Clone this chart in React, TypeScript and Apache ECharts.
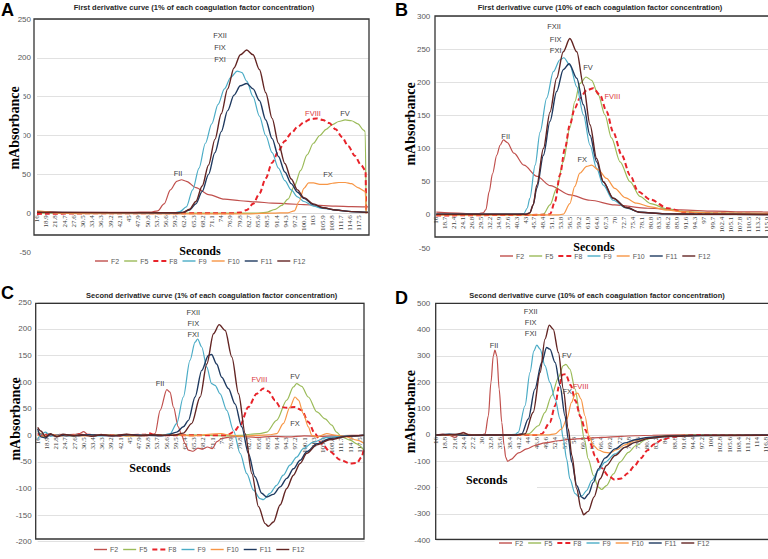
import React, { useEffect, useRef } from 'react';
import * as echarts from 'echarts';

const seriesNames = ['F2', 'F5', 'F8', 'F9', 'F10', 'F11', 'F12'];
const seriesColors = ['#C0504D', '#9BBB59', '#E8232A', '#4BACC6', '#F79646', '#1F3A60', '#632523'];

// x tick labels (seconds)
const ticksA = [16, 18.9, 21.8, 24.7, 27.6, 30.5, 33.4, 36.3, 39.2, 42.1, 45, 47.9, 50.8, 53.7, 56.6, 59.5, 62.4, 65.3, 68.2, 71.1, 74, 76.9, 79.8, 82.7, 85.6, 88.5, 91.4, 94.3, 97.2, 100.1, 103, 105.9, 108.8, 111.7, 114.6, 117.5];
const ticksB = [16, 18.7, 21.4, 24.1, 26.8, 29.5, 32.2, 34.9, 37.6, 40.3, 43, 45.7, 48.4, 51.1, 53.8, 56.5, 59.2, 61.9, 64.6, 67.3, 70, 72.7, 75.4, 78.1, 80.8, 83.5, 86.2, 88.9, 91.6, 94.3, 97, 99.7, 102.4, 105.1, 107.8, 110.5, 113.2, 115.9];
const ticksC = [16, 18.9, 21.8, 24.7, 27.6, 30.5, 33.4, 36.3, 39.2, 42.1, 45, 47.9, 50.8, 53.7, 56.6, 59.5, 62.4, 65.3, 68.2, 71.1, 74, 76.9, 79.8, 82.7, 85.6, 88.5, 91.4, 94.3, 97.2, 100.1, 103, 105.9, 108.8, 111.7, 114.6, 117.5];
const ticksD = [16, 18.8, 21.6, 24.4, 27.2, 30, 32.8, 35.6, 38.4, 41.2, 44, 46.8, 49.6, 52.4, 55.2, 58, 60.8, 63.6, 66.4, 69.2, 72, 74.8, 77.6, 80.4, 83.2, 86, 88.8, 91.6, 94.4, 97.2, 100, 102.8, 105.6, 108.4, 111.2, 114, 116.8];

// Panel A: first derivative, 1%  ([seconds, mAbsorbance])
const aF2 = [[16,2],[20,2],[25,1],[35,1],[45,1],[52,1.5],[54,3],[56,12],[58,30],[60,41],[61.5,43],[63,41],[66,33],[70,24],[75,18],[80,16],[85,14.5],[90,13],[95,12],[100,11],[105,10],[110,9],[115,8.5],[120.2,8]];
const aF5 = [[16,0],[85,0],[88,1],[91,5],[93,10],[95,18],[97,35],[99,55],[101,75],[103,90],[105,100],[107,108],[109,114],[111,118],[113,120],[115,119],[117,115],[118.8,107],[119.3,105],[119.6,0]];
const aF8 = [[16,-1],[40,0],[78,0],[80,1],[82,4],[84,12],[86,25],[88,45],[90,65],[92,80],[94,93],[96,103],[98,111],[100,117],[102,121],[104,122],[106,120],[108,116],[110,108],[112,98],[114,86],[116,74],[118,62],[119.4,55],[119.6,0]];
const aF9 = [[16,1],[59,0],[61,2],[63,8],[65,30],[67,58],[69,90],[71,115],[73,140],[75,160],[77,175],[79,183],[80.5,181],[82,170],[84,150],[86,125],[88,100],[90,78],[92,58],[94,42],[96,30],[98,21],[100,15],[103,9],[106,6],[110,4],[115,2],[120.2,1]];
const aF10 = [[16,3],[19,2],[22,0],[30,-0.5],[60,-1],[80,-1],[90,0],[95,0.5],[97,3],[98.5,15],[100,32],[101.5,39],[103,39],[105,37],[107,37],[109,38.5],[111,39.5],[113,39.5],[115,38],[117,33],[119.3,28],[119.6,0]];
const aF11 = [[16,1],[60,0.5],[62,1],[64,4],[66,12],[68,28],[70,50],[72,78],[74,105],[76,132],[78,152],[80,164],[82,167],[84,160],[86,145],[88,120],[90,96],[92,73],[94,53],[96,38],[98,27],[100,19],[103,11],[106,7],[110,4],[115,2],[120.2,1]];
const aF12 = [[16,1],[60,0.5],[62,1],[64,5],[66,15],[68,35],[70,62],[72,95],[74,128],[76,160],[78,187],[80,204],[82,210],[84,204],[86,185],[88,155],[90,122],[92,90],[94,64],[96,44],[98,30],[100,20],[103,12],[106,7],[110,4],[115,2],[120.2,1]];

// Panel B: first derivative, 10%
const bF2 = [[16,4],[20,3],[25,2],[29,2],[30.2,3],[31,8],[32,35],[33,62],[34.3,90],[35.3,105],[36.3,113],[37.5,109],[39.5,93],[42.5,75],[46.5,58],[50.5,44],[56.5,30],[62.5,22],[70,15],[80,10],[90,7.5],[100,5.5],[110,4.5],[120,4]];
const bF5 = [[16,0],[47,0],[48.4,1],[50.4,15],[52.4,40],[54.4,80],[56.4,131],[57.9,171],[59.4,198],[61.3,208],[63,203],[65,181],[67,151],[69,116],[71.6,80],[74.6,50],[77.6,28],[80.8,17],[86,8.5],[91,5],[101,2.5],[120,1.5]];
const bF8 = [[16,-1],[49,0],[50.4,1],[51.9,20],[53.4,60],[54.9,100],[56.4,136],[57.9,161],[59.4,176],[61.5,188],[63.5,191],[65.5,181],[67.5,156],[69.5,125],[72.1,90],[74.6,60],[77.1,35],[80.8,23],[86,10],[91,4],[96,2],[120,1]];
const bF9 = [[16,1],[40,1],[42.5,2],[43.5,10],[44.3,25],[45.9,75],[47.4,125],[49.4,176],[51.4,216],[53.4,234],[54.6,237],[56.4,226],[58.5,193],[60.5,151],[62.5,105],[64.5,70],[66.5,45],[69.5,22],[73.5,10],[77.5,4],[85,1.5],[95,1],[120,0.5]];
const bF10 = [[16,0],[53,0],[54.4,1],[56.4,17],[57.9,43],[59.4,63],[61.5,73],[63,75],[65,68],[67.5,55],[70,40],[73.1,26],[76.6,17.6],[80.8,12],[86,7],[91,4.5],[101,2.5],[120,2]];
const bF11 = [[16,1],[43,1],[44.3,3],[45.3,15],[46.4,40],[48.4,90],[50.4,141],[52.4,186],[54.4,219],[56.2,228],[58.5,206],[60.5,166],[62.5,120],[64.5,80],[66.5,50],[69.5,25],[73.5,11],[77.5,4],[85,1.5],[95,1],[120,0.5]];
const bF12 = [[16,1],[43,1],[44.3,3],[45.3,15],[46.4,45],[48.4,100],[50.4,155],[52.4,206],[54.4,246],[56.4,266],[58.5,246],[60.5,196],[62.5,136],[64.5,85],[66.5,50],[69.5,25],[73.5,11],[77.5,4],[85,1.5],[95,1],[120,0.5]];

// Panel C: second derivative, 1%
const cF2 = [[16,5],[17.5,-2],[19,3],[21,-1],[23,2],[25,-2],[27,1],[29,3],[30.5,7],[32,0],[34,-2],[36,2],[38,-1],[40,1],[42,-2],[44,2],[46,0],[48,1],[50,-1],[52,1],[53,3],[54.6,47],[56.7,86],[57.7,81],[58.8,53],[60.3,16],[61.4,0],[62.4,-15],[63.5,-28],[65,-30],[66.5,-24],[68,-26],[69.5,-22],[71,-25],[72.5,-12],[74,-6],[77,-3],[80,-2],[85,-4],[90,-2],[95,-3],[100,-1],[105,-2],[110,-1],[115,0],[118.8,0]];
const cF5 = [[16,8],[17,3],[18.5,-4],[20,2],[22,-2],[24,1],[27,-1],[30,1],[35,0],[40,1],[45,-1],[50,0],[55,1],[60,0],[65,1],[70,0],[75,-1],[80,0],[83,2],[86,3],[88.2,6],[91.3,28],[94.5,66],[96.6,91],[97.6,97],[99.2,92],[101.3,72],[104,44],[106.6,31],[108.7,19],[110.2,6],[111.8,-3],[114.5,-9],[116.6,-16],[118.8,-28]];
const cF8 = [[16,2],[20,0],[30,1],[40,0],[50,1],[51,4],[53,0],[60,0],[70,0],[75.6,0],[77.7,6],[79.8,19],[82.4,53],[85,78],[87.1,88],[88.7,83],[90.8,66],[92.4,53],[94.5,52],[97.1,53],[99.2,47],[101.3,25],[103.4,3],[105.5,-16],[108.2,-31],[111.3,-46],[114.5,-53],[116.6,-52],[118.1,-41],[118.8,-25]];
const cF9 = [[16,-8],[17,2],[18.5,6],[20,-2],[22,1],[25,-1],[30,1],[35,-1],[40,0],[45,1],[50,0],[55,0],[57.7,3],[59.8,22],[61.9,72],[64,141],[65.6,175],[66.4,181],[67.7,166],[69.3,128],[70.8,97],[71.9,94],[73.5,78],[75.6,47],[77.7,9],[79.8,-34],[81.9,-72],[84,-103],[86.1,-119],[87.1,-121],[89.2,-109],[91.3,-94],[93.4,-75],[95.5,-56],[97.6,-41],[99.7,-25],[102.9,-13],[107.1,-4],[113.4,-1],[118.8,0]];
const cF10 = [[16,0],[18,-3],[20,2],[23,-1],[26,1],[30,-1],[35,1],[40,0],[45,-1],[50,1],[55,0],[60,1],[65,-1],[70,2],[74,3],[76,1],[80,-2],[85,0],[89,1],[91.3,3],[93.4,22],[95.5,53],[97.1,72],[98.2,66],[99.7,41],[101.3,16],[102.4,0],[104,-3],[107.1,3],[110.2,0],[113.4,-3],[116.6,-9],[118.8,-15]];
const cF11 = [[16,12],[17,-3],[18.5,-5],[20,2],[22,-2],[25,1],[28,-1],[32,1],[36,0],[40,-1],[45,1],[50,0],[55,-1],[56.7,0],[59.8,6],[61.9,16],[63.5,28],[65.6,72],[67.7,122],[69.8,150],[70.8,152],[72.4,134],[74,109],[76.1,88],[78.2,59],[80.3,16],[82.4,-34],[84.5,-78],[86.6,-109],[88.2,-116],[90.3,-111],[92.4,-97],[94.5,-81],[96.6,-63],[98.7,-47],[100.8,-31],[104,-16],[108.2,-6],[113.4,-2],[118.8,0]];
const cF12 = [[16,15],[17,8],[18.5,-3],[20,3],[22,-3],[24,2],[27,-1],[30,1],[33,-2],[36,1],[40,-1],[44,2],[48,-1],[52,1],[56,0],[58.8,0],[61.9,4],[64.5,22],[67.2,72],[69.3,134],[71.4,191],[73.2,208],[75.1,197],[77.2,147],[79.3,78],[81.4,3],[83.5,-72],[85.6,-134],[87.7,-166],[88.7,-171],[90.3,-163],[92.4,-131],[94.5,-100],[96.6,-75],[98.7,-53],[100.8,-34],[104,-18],[108.2,-8],[113.4,-2],[118.8,0]];

// Panel D: second derivative, 10%
const dF2 = [[16,0],[18,3],[20,-2],[21.7,-9],[23,0],[24.2,10],[25.5,2],[28,0],[30,1],[30.9,4],[31.9,73],[32.7,200],[33.4,300],[33.9,322],[34.5,300],[35.2,174],[36,48],[36.7,-40],[37.2,-85],[37.8,-100],[38.8,-93],[41.1,-68],[43.6,-53],[46.1,-40],[49.2,-30],[53.3,-22],[56.3,-17],[61.4,-13],[66.5,-9],[72.6,-5],[76.7,-3],[82,-1],[90,0],[120,0]];
const dF5 = [[16,0],[40,0],[44.1,4],[47.2,35],[49.2,86],[51.2,149],[53.3,218],[54.8,263],[55.6,268],[56.8,250],[58.4,174],[59.9,73],[61.2,-15],[62.4,-91],[64,-154],[65.5,-198],[66.5,-207],[68,-192],[70.1,-148],[72.1,-103],[74.7,-66],[77,-40],[80,-18],[83,-7],[87,-2],[95,0],[120,0]];
const dF8 = [[16,0],[47,0],[48.2,4],[50.7,48],[52.3,111],[53.5,187],[54.5,229],[55.5,231],[57,190],[58.5,130],[60,70],[61.5,20],[63,-30],[64.5,-80],[66.5,-125],[68.5,-155],[70.5,-170],[72.5,-165],[74.5,-145],[76.5,-118],[78.5,-88],[80.5,-58],[82.5,-35],[85,-18],[88,-8],[92,-2],[96,0],[120,0]];
const dF9 = [[16,0],[20,2],[25,0],[30,1],[38,0],[40,2],[41,10],[43.1,111],[44.6,237],[45.8,319],[46.7,341],[47.7,326],[49.2,263],[50.7,200],[52.3,136],[53.8,61],[54.8,-15],[55.8,-91],[56.8,-167],[58.4,-223],[59.6,-235],[60.6,-230],[61.9,-211],[63.5,-173],[65.5,-135],[67.5,-104],[70.6,-72],[73.6,-47],[76.7,-28],[80.8,-13],[86.9,-6],[97,-2.5],[120,-1]];
const dF10 = [[16,0],[50,0],[52.3,4],[54.3,23],[55.9,61],[57.3,124],[58.4,155],[59.2,159],[60.2,136],[61.4,73],[62.6,-3],[64,-40],[65.5,-57],[67.5,-66],[69,-68],[71.1,-56],[73.6,-38],[76.7,-22],[81.8,-9],[86.9,-4],[97,-1],[120,0]];
const dF11 = [[16,0],[20,3],[25,-1],[30,0],[40,0],[42.1,4],[44.1,61],[46.1,174],[48.2,275],[49.7,332],[50.7,326],[52.3,275],[53.8,187],[55.3,73],[56.3,-15],[57.4,-104],[58.9,-192],[60.4,-236],[61.2,-242],[62.5,-224],[64,-179],[65.5,-129],[67.5,-88],[70.6,-53],[73.6,-30],[76.7,-18],[80.8,-9],[86.9,-4],[97,-1],[120,0]];
const dF12 = [[16,0],[21.7,2],[24.4,8],[26,0],[40,0],[43.1,4],[45.6,86],[47.7,237],[49.2,364],[50.5,417],[51.7,402],[53.3,313],[54.8,174],[56.3,23],[57.4,-78],[58.9,-205],[60.2,-280],[61,-303],[62.4,-290],[64.2,-235],[66,-167],[68,-116],[70.6,-78],[73.6,-47],[76.7,-28],[80.8,-13],[86.9,-5],[97,-2.5],[120,-1]];

const panelTitles = [
  'First derivative curve (1% of each coagulation factor concentration)',
  'First derivative curve (10% of each coagulation factor concentration)',
  'Second derivative curve (1% of each coagulation factor concentration)',
  'Second derivative curve (10% of each coagulation factor concentration)',
];
const panelLetters = ['A', 'B', 'C', 'D'];

const SANS = '"Liberation Sans", Arial, sans-serif';
const SERIF = '"Liberation Serif", "Times New Roman", serif';

const ICON_SOLID = 'path://M0,0H13V1.4H0Z';
const ICON_DASH = 'path://M0,0H5V2.2H0Z M8,0H13V2.2H8Z';

const panels = [
  {
    grid: { left: 37, top: 19, width: 331.7, height: 233 }, xMax: 120.4,
    y: [-50, 250, 50], minLine: false, ticks: ticksA,
    data: [aF2, aF5, aF8, aF9, aF10, aF11, aF12],
    box: [34, 19, 335, 216], legend: [95, 262],
    letter: [7.5, 9.8], title: [194, 7.3], yName: [14.5, 128], seconds: [200, 251], secondsBg: false,
    notes: [['FXII', 220, 35], ['FIX', 220, 47], ['FXI', 220, 59], ['FII', 178, 173], ['FVIII', 313, 113, true], ['FV', 345, 113], ['FX', 328, 174]],
  },
  {
    grid: { left: 436.3, top: 16, width: 343.8, height: 232 }, xMax: 120,
    y: [-50, 300, 50], minLine: false, ticks: ticksB,
    data: [bF2, bF5, bF8, bF9, bF10, bF11, bF12],
    box: [435, 16, 400, 221], legend: [500, 257],
    letter: [401.5, 9.8], title: [600, 7], yName: [410.7, 124], seconds: [594, 247], secondsBg: false,
    notes: [['FXII', 554, 26.7], ['FIX', 555.7, 39], ['FXI', 555.7, 50.5], ['FV', 588, 67.7], ['FVIII', 612.3, 96.7, true], ['FII', 505.7, 136], ['FX', 582.3, 159.3]],
  },
  {
    grid: { left: 37.7, top: 302.3, width: 326.8, height: 239.4 }, xMax: 119,
    y: [-200, 250, 50], minLine: true, ticks: ticksC,
    data: [cF2, cF5, cF8, cF9, cF10, cF11, cF12],
    box: [35.7, 303.3, 328.3, 235.7], legend: [94, 550.5],
    letter: [7.5, 292.5], title: [211.7, 295], yName: [15, 419], seconds: [150, 468], secondsBg: false,
    notes: [['FXII', 193.3, 312.3], ['FIX', 193.3, 323.3], ['FXI', 193.3, 334], ['FII', 160, 383.3], ['FVIII', 259.3, 379.3, true], ['FV', 295, 376.7], ['FX', 295, 423.3]],
  },
  {
    grid: { left: 436.3, top: 303.3, width: 340.5, height: 237 }, xMax: 120,
    y: [-400, 500, 100], minLine: true, ticks: ticksD,
    data: [dF2, dF5, dF8, dF9, dF10, dF11, dF12],
    box: [435.7, 303.3, 400, 236], legend: [499, 544],
    letter: [401.5, 298.3], title: [597, 295], yName: [410.7, 411.7], seconds: [486.7, 480], secondsBg: true,
    notes: [['FXII', 530.7, 311.7], ['FIX', 530.7, 322.7], ['FXI', 530.7, 333.3], ['FII', 494, 345], ['FV', 566.7, 355], ['FVIII', 580.7, 386.7, true], ['FX', 567.3, 391.7]],
  },
];

function buildOption() {
  const grid: any[] = [];
  const xAxis: any[] = [];
  const yAxis: any[] = [];
  const series: any[] = [];
  const legend: any[] = [];
  const graphic: any[] = [];

  panels.forEach((p, pi) => {
    grid.push({ ...p.grid, outerBoundsMode: 'none', containLabel: false });
    // distance from the grid bottom up to the zero line, so the tick labels sit under y = 0
    const zeroOffset = -(p.grid.height * (0 - p.y[0]) / (p.y[1] - p.y[0]));
    xAxis.push({
      type: 'value', gridIndex: pi, min: 16, max: p.xMax, position: 'bottom', offset: zeroOffset,
      axisLine: { show: true, onZero: false, lineStyle: { color: '#d9d9d9', width: 0.8 } },
      axisTick: { show: false },
      splitLine: { show: false },
      axisLabel: {
        customValues: p.ticks, formatter: (v: number) => String(v),
        rotate: 90, fontSize: 7, fontFamily: SERIF, color: '#404040', margin: 2,
      },
    });
    yAxis.push({
      type: 'value', gridIndex: pi, min: p.y[0], max: p.y[1], interval: p.y[2],
      axisLine: { show: false, onZero: false }, axisTick: { show: false },
      axisLabel: { fontSize: 8, fontFamily: SANS, color: '#595959', margin: 6 },
      splitLine: { show: true, showMinLine: p.minLine, lineStyle: { color: '#d9d9d9', width: 0.8 } },
    });
    p.data.forEach((d, si) => {
      const dashed = seriesNames[si] === 'F8';
      series.push({
        type: 'line', name: seriesNames[si], xAxisIndex: pi, yAxisIndex: pi,
        data: d, symbol: 'none', smooth: 0.3, smoothMonotone: 'x',
        lineStyle: { color: seriesColors[si], width: dashed ? 2 : (si >= 5 ? 1.4 : 1.2), type: dashed ? [5, 3] : 'solid' },
        itemStyle: { color: seriesColors[si] },
        z: 2 + si * 0.01,
      });
    });
    legend.push({
      left: p.legend[0], top: p.legend[1] - 4.5, padding: 0, itemWidth: 13, itemHeight: 2.2, itemGap: 5,
      selectedMode: false,
      data: seriesNames.map((n) => ({ name: n, icon: n === 'F8' ? ICON_DASH : ICON_SOLID })),
      textStyle: { fontSize: 7, fontFamily: SANS, color: '#595959', padding: [0, 0, 0, -2] },
    });
    const [bx, by, bw, bh] = p.box;
    graphic.push({ type: 'rect', z: 5, silent: true, shape: { x: bx, y: by, width: bw, height: bh }, style: { fill: 'none', stroke: '#333333', lineWidth: 1.3 } });
    graphic.push({ type: 'text', z: 6, x: p.letter[0], y: p.letter[1], style: { text: panelLetters[pi], fontSize: 18, fontWeight: 'bold', fontFamily: SANS, fill: '#000', align: 'center', verticalAlign: 'middle', textAlign: 'center', textVerticalAlign: 'middle' } });
    graphic.push({ type: 'text', z: 6, x: p.title[0], y: p.title[1], style: { text: panelTitles[pi], fontSize: 7.5, fontWeight: 'bold', fontFamily: SANS, fill: '#262626', align: 'center', verticalAlign: 'middle', textAlign: 'center', textVerticalAlign: 'middle' } });
    graphic.push({ type: 'text', z: 6, x: p.yName[0], y: p.yName[1], rotation: Math.PI / 2, style: { text: 'mAbsorbance', fontSize: 14, fontWeight: 'bold', fontFamily: SERIF, fill: '#000', align: 'center', verticalAlign: 'middle', textAlign: 'center', textVerticalAlign: 'middle', backgroundColor: pi === 0 ? '#ffffff' : undefined, padding: pi === 0 ? [0, 2, 4, 2] : 0 } });
    if (p.secondsBg) {
      graphic.push({ type: 'rect', z: 1, silent: true, shape: { x: 438, y: 469, width: 99, height: 22 }, style: { fill: '#ffffff' } });
    }
    graphic.push({ type: 'text', z: 6, x: p.seconds[0], y: p.seconds[1], style: { text: 'Seconds', fontSize: 12, fontWeight: 'bold', fontFamily: SERIF, fill: '#000', align: 'center', verticalAlign: 'middle', textAlign: 'center', textVerticalAlign: 'middle' } });
    p.notes.forEach((n: any) => {
      graphic.push({ type: 'text', z: 6, x: n[1], y: n[2], style: { text: n[0], fontSize: 7.5, fontFamily: SANS, fill: n[3] ? '#D9363B' : '#404040', align: 'center', verticalAlign: 'middle', textAlign: 'center', textVerticalAlign: 'middle' } });
    });
  });

  return { animation: false, backgroundColor: '#ffffff', grid, xAxis, yAxis, series, legend, graphic };
}

export default function App() {
  const ref = useRef<HTMLDivElement>(null);
  useEffect(() => {
    if (!ref.current) return;
    const chart = echarts.init(ref.current, null, { renderer: 'svg' });
    chart.setOption(buildOption() as any);
    return () => chart.dispose();
  }, []);
  return (
    <div style={{ position: 'fixed', left: 0, top: 0, width: 768, height: 559, overflow: 'hidden', background: '#fff' }}>
      <div ref={ref} style={{ width: 800, height: 559 }} />
    </div>
  );
}
